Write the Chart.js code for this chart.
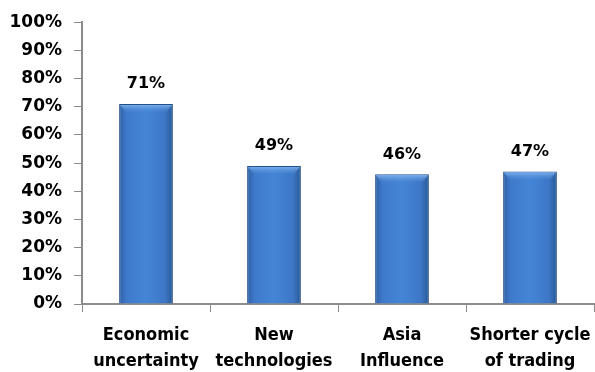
<!DOCTYPE html>
<html>
<head>
<meta charset="utf-8">
<script src="https://cdn.jsdelivr.net/npm/chart.js@4/dist/chart.umd.min.js"></script>
<style>
  html, body { margin: 0; padding: 0; background: #fff; }
  #wrap { width: 595px; height: 372px; }
</style>
</head>
<body>
<div id="wrap"><canvas id="chart"></canvas></div>
<script>
// ── data ──────────────────────────
const categories = [
  ["Economic", "uncertainty"],
  ["New", "technologies"],
  ["Asia", "Influence"],
  ["Shorter cycle", "of trading"],
];
const values = [71, 49, 46, 47];
const yTicks = [0, 10, 20, 30, 40, 50, 60, 70, 80, 90, 100];

const tickFont = { family: "'DejaVu Sans', sans-serif", size: 17, weight: "bold" };
const catFont = {
  family: "'DejaVu Sans Condensed', 'Liberation Sans Narrow', 'DejaVu Sans', sans-serif",
  size: 18,
  weight: "bold",
  lineHeight: 1.42,
};
const axisGrey = "#8c8c8c";

// bevelled bar look: horizontal gradient + light top cap
const barStyle = {
  id: "barStyle",
  beforeDatasetsDraw(chart) {
    const { ctx } = chart;
    chart.getDatasetMeta(0).data.forEach((bar) => {
      const half = bar.width / 2;
      const g = ctx.createLinearGradient(bar.x - half, 0, bar.x + half, 0);
      g.addColorStop(0, "#2f62a6");
      g.addColorStop(0.15, "#3f7acb");
      g.addColorStop(0.5, "#4585d6");
      g.addColorStop(0.85, "#3d77c6");
      g.addColorStop(1, "#2a5894");
      // each bar gets its own options object so gradients don't overwrite each other
      bar.options = Object.assign({}, bar.options, { backgroundColor: g });
    });
  },
  afterDatasetsDraw(chart) {
    const { ctx } = chart;
    ctx.save();
    chart.getDatasetMeta(0).data.forEach((bar, i) => {
      const half = bar.width / 2;
      const l = bar.x - half, r = bar.x + half, t = bar.y;
      const g = ctx.createLinearGradient(0, t, 0, t + 9);
      g.addColorStop(0, "#86b9f2");
      g.addColorStop(1, "rgba(80,140,215,0)");
      ctx.fillStyle = g;
      ctx.beginPath();
      ctx.moveTo(l + 1, t + 1);
      ctx.lineTo(r - 1, t + 1);
      ctx.lineTo(r - 7, t + 9);
      ctx.lineTo(l + 7, t + 9);
      ctx.closePath();
      ctx.fill();

      // value label above the bar
      ctx.fillStyle = "#000";
      ctx.font = "bold 16px 'DejaVu Sans', sans-serif";
      ctx.textAlign = "center";
      ctx.textBaseline = "middle";
      ctx.fillText(values[i] + "%", bar.x, t - 20);
    });
    ctx.restore();
  },
};

new Chart(document.getElementById("chart"), {
  type: "bar",
  data: {
    labels: categories,
    datasets: [
      {
        data: values,
        backgroundColor: "#3f7acb",
        borderColor: "#24508a",
        borderWidth: 1,
        categoryPercentage: 1,
        barPercentage: 0.42,
      },
    ],
  },
  options: {
    responsive: true,
    maintainAspectRatio: false,
    animation: false,
    layout: { padding: { top: 13, right: 1, left: 0, bottom: 0 } },
    plugins: {
      legend: { display: false },
      tooltip: { enabled: false },
    },
    scales: {
      x: {
        afterFit: (scale) => {
          scale.height = 68;
          scale.paddingRight = 0;
        },
        grid: {
          offset: true,
          drawOnChartArea: false,
          tickLength: 8,
          color: axisGrey,
        },
        border: { color: axisGrey, width: 2 },
        ticks: {
          color: "#000",
          font: catFont,
          padding: 11,
          maxRotation: 0,
          autoSkip: false,
        },
      },
      y: {
        min: 0,
        max: 100,
        afterFit: (scale) => {
          scale.width = 82;
        },
        afterBuildTicks: (axis) => {
          axis.ticks = yTicks.map((v) => ({ value: v }));
        },
        grid: {
          drawOnChartArea: false,
          tickLength: 8,
          color: axisGrey,
        },
        border: { color: axisGrey, width: 2 },
        ticks: {
          color: "#000",
          font: tickFont,
          padding: 12,
          callback: (v) => v + "%",
        },
      },
    },
  },
  plugins: [barStyle],
});
</script>
</body>
</html>
